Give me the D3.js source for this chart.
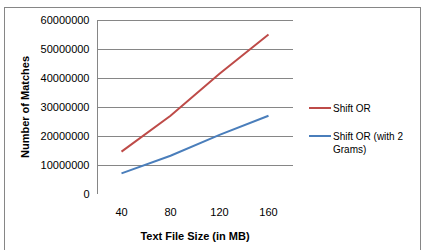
<!DOCTYPE html>
<html>
<head>
<meta charset="utf-8">
<script src="https://cdn.jsdelivr.net/npm/d3@7"></script>
<style>
	body { margin: 0; background: #fff; }
	svg text { font-family: "Liberation Sans", Arial, sans-serif; fill: #000; }
</style>
</head>
<body>
<svg id="chart" width="426" height="250"></svg>
<script>
// chart values
var sizes = ['40', '80', '120', '160'];
var shiftOr = [14600000, 27000000, 41500000, 55000000];
var shiftOr2Grams = [7100000, 13200000, 20400000, 27000000];
var yTicks = [0, 10000000, 20000000, 30000000, 40000000, 50000000, 60000000];
var seriesNames = ['Shift OR', 'Shift OR (with 2 Grams)'];
var seriesColors = ['#be4b48', '#4a7ebb'];

(function () {
	var svg = d3.select('#chart');
	var left = 97, right = 293, top = 20, bottom = 194;

	// outer frame
	svg.append('rect')
		.attr('x', 4.5).attr('y', 7.5)
		.attr('width', 416).attr('height', 250)
		.attr('fill', 'none').attr('stroke', '#868686');

	var x = d3.scaleBand().domain(sizes).range([left, right]);
	var y = d3.scaleLinear().domain([0, 60000000]).range([bottom, top]);

	// gridlines
	svg.append('g').selectAll('line')
		.data(yTicks.slice(1))
		.enter().append('line')
		.attr('x1', left).attr('x2', right)
		.attr('y1', function (d) { return Math.round(y(d)) + 0.5; })
		.attr('y2', function (d) { return Math.round(y(d)) + 0.5; })
		.attr('stroke', '#868686');

	// y axis
	var yAxis = svg.append('g')
		.attr('transform', 'translate(' + (left + 0.5) + ',0)')
		.call(d3.axisLeft(y).tickValues(yTicks).tickSize(0).tickPadding(8).tickFormat(d3.format('d')));
	yAxis.select('.domain').attr('stroke', '#868686').attr('d', 'M0,' + top + 'V' + bottom);
	yAxis.selectAll('text').attr('font-size', 11).attr('dy', '0.35em')
		.attr('font-family', 'Liberation Sans, Arial, sans-serif');

	// x axis labels
	var xAxis = svg.append('g')
		.attr('transform', 'translate(0,' + bottom + ')')
		.call(d3.axisBottom(x).tickSize(0).tickPadding(14));
	xAxis.select('.domain').remove();
	xAxis.selectAll('text').attr('font-size', 11)
		.attr('font-family', 'Liberation Sans, Arial, sans-serif');

	// axis titles
	svg.append('text')
		.attr('x', (left + right) / 2).attr('y', 240)
		.attr('text-anchor', 'middle')
		.attr('font-size', 11).attr('font-weight', 'bold')
		.text('Text File Size (in MB)');
	svg.append('text')
		.attr('transform', 'translate(29,' + (top + bottom) / 2 + ') rotate(-90)')
		.attr('text-anchor', 'middle')
		.attr('font-size', 11).attr('font-weight', 'bold')
		.text('Number of Matches');

	// lines
	var line = d3.line()
		.x(function (d, i) { return x(sizes[i]) + x.bandwidth() / 2; })
		.y(function (d) { return y(d); });
	[shiftOr, shiftOr2Grams].forEach(function (s, i) {
		svg.append('path')
			.attr('d', line(s))
			.attr('fill', 'none')
			.attr('stroke', seriesColors[i])
			.attr('stroke-width', 2);
	});

	// legend
	var legendY = [108, 136];
	seriesNames.forEach(function (name, i) {
		svg.append('line')
			.attr('x1', 309).attr('x2', 331)
			.attr('y1', legendY[i]).attr('y2', legendY[i])
			.attr('stroke', seriesColors[i]).attr('stroke-width', 2);
	});
	svg.append('text').attr('x', 333).attr('y', legendY[0] + 4)
		.attr('font-size', 10).text('Shift OR');
	var t = svg.append('text').attr('x', 333).attr('y', legendY[1] + 4).attr('font-size', 10);
	t.append('tspan').text('Shift OR (with 2');
	t.append('tspan').attr('x', 333).attr('dy', 13).text('Grams)');
}());
</script>
</body>
</html>
